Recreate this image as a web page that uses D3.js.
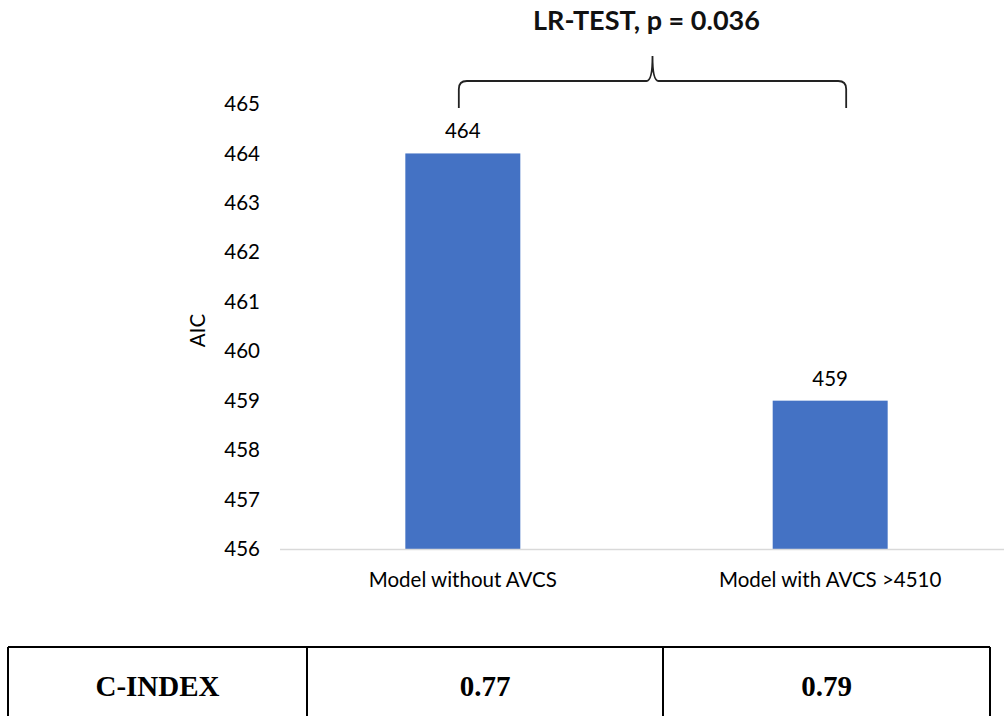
<!DOCTYPE html>
<html>
<head>
<meta charset="utf-8">
<script src="https://cdn.jsdelivr.net/npm/d3@7"></script>
<style>
  html, body { margin: 0; padding: 0; background: #fff; }
  svg { display: block; }
</style>
</head>
<body>
<svg id="chart" width="1004" height="716"></svg>
<script>
// ---- data ----
const categories = ["Model without AVCS", "Model with AVCS >4510"];
const aicValues = [464, 459];
const yTicks = [456, 457, 458, 459, 460, 461, 462, 463, 464, 465];
const yLabel = "AIC";
const testTitle = "LR-TEST, p = 0.036";
const tableRowLabel = "C-INDEX";
const cIndexValues = ["0.77", "0.79"];

// ---- drawing ----
const svg = d3.select("#chart");
const W = 1004, H = 716;
const chartFont = "Lato, 'Open Sans', sans-serif";

const x = d3.scaleBand()
  .domain(categories)
  .range([283, 1010])
  .paddingInner(0.687)
  .paddingOuter(0.333);

const y = d3.scaleLinear()
  .domain([456, 465])
  .range([549, 104]);

// y tick labels (no axis line / ticks)
const yAxis = d3.axisLeft(y).tickValues(yTicks).tickSize(0).tickPadding(0).tickFormat(d3.format("d"));
const gy = svg.append("g").attr("transform", "translate(260,0)").call(yAxis);
gy.select(".domain").remove();
gy.selectAll("text")
  .attr("font-family", chartFont)
  .attr("font-size", 20.5)
  .attr("fill", "#000");

// y label
svg.append("text")
  .attr("transform", `translate(205,${(y(456) + y(465)) / 2 + 4}) rotate(-90)`)
  .attr("text-anchor", "middle")
  .attr("font-family", chartFont)
  .attr("font-size", 20.5)
  .attr("fill", "#000")
  .text(yLabel);

// bars
svg.selectAll("rect.bar")
  .data(categories)
  .enter().append("rect")
  .attr("class", "bar")
  .attr("x", d => x(d))
  .attr("width", x.bandwidth())
  .attr("y", (d, i) => y(aicValues[i]))
  .attr("height", (d, i) => y(456) - y(aicValues[i]))
  .attr("fill", "#4472C4");

// baseline axis
const xAxis = d3.axisBottom(x).tickSize(0).tickPadding(0);
const gx = svg.append("g").attr("transform", `translate(0,${y(456)})`).call(xAxis);
gx.select(".domain").remove();
gx.append("line")
  .attr("x1", 280).attr("x2", 1004)
  .attr("y1", 0.5).attr("y2", 0.5)
  .attr("stroke", "#d9d9d9").attr("stroke-width", 1.5);
gx.selectAll(".tick text")
  .attr("dy", 0)
  .attr("y", 38)
  .attr("font-family", chartFont)
  .attr("font-size", 20.5)
  .attr("fill", "#000");

// value labels
svg.selectAll("text.val")
  .data(categories)
  .enter().append("text")
  .attr("class", "val")
  .attr("x", d => x(d) + x.bandwidth() / 2)
  .attr("y", (d, i) => y(aicValues[i]) - 15)
  .attr("text-anchor", "middle")
  .attr("font-family", chartFont)
  .attr("font-size", 20.5)
  .attr("fill", "#000")
  .text((d, i) => aicValues[i]);

// bracket over both bars
const bx1 = x(categories[0]) + x.bandwidth() / 2 - 4;
const bx2 = x(categories[1]) + x.bandwidth() / 2 + 16;
const bxm = (bx1 + bx2) / 2;
const yBot = 108, yMid = 81, yTop = 56, r = 8;
const bracket = d3.path();
bracket.moveTo(bx1, yBot);
bracket.lineTo(bx1, yMid + r);
bracket.quadraticCurveTo(bx1, yMid, bx1 + r, yMid);
bracket.lineTo(bxm - 6, yMid);
bracket.quadraticCurveTo(bxm, yMid, bxm, yTop);
bracket.quadraticCurveTo(bxm, yMid, bxm + 6, yMid);
bracket.lineTo(bx2 - r, yMid);
bracket.quadraticCurveTo(bx2, yMid, bx2, yMid + r);
bracket.lineTo(bx2, yBot);
svg.append("path")
  .attr("d", bracket.toString())
  .attr("fill", "none")
  .attr("stroke", "#222")
  .attr("stroke-width", 1.8);

svg.append("text")
  .attr("x", bxm - 6)
  .attr("y", 30)
  .attr("text-anchor", "middle")
  .attr("font-family", chartFont)
  .attr("font-weight", "bold")
  .attr("font-size", 27)
  .attr("fill", "#111")
  .text(testTitle);

// table
const colEdges = [8, 307, 663, 990];
const tTop = 647;
const tg = svg.append("g");
tg.append("line").attr("x1", colEdges[0]).attr("x2", colEdges[3])
  .attr("y1", tTop).attr("y2", tTop).attr("stroke", "#000").attr("stroke-width", 2);
colEdges.forEach(cx => {
  tg.append("line").attr("x1", cx).attr("x2", cx)
    .attr("y1", tTop).attr("y2", H + 2).attr("stroke", "#000").attr("stroke-width", 2);
});
const cells = [tableRowLabel].concat(cIndexValues);
tg.selectAll("text.cell")
  .data(cells)
  .enter().append("text")
  .attr("class", "cell")
  .attr("x", (d, i) => (colEdges[i] + colEdges[i + 1]) / 2)
  .attr("y", 696)
  .attr("text-anchor", "middle")
  .attr("font-family", "'Liberation Serif', 'Times New Roman', serif")
  .attr("font-weight", "bold")
  .attr("font-size", 29)
  .attr("fill", "#000")
  .text(d => d);
</script>
</body>
</html>
